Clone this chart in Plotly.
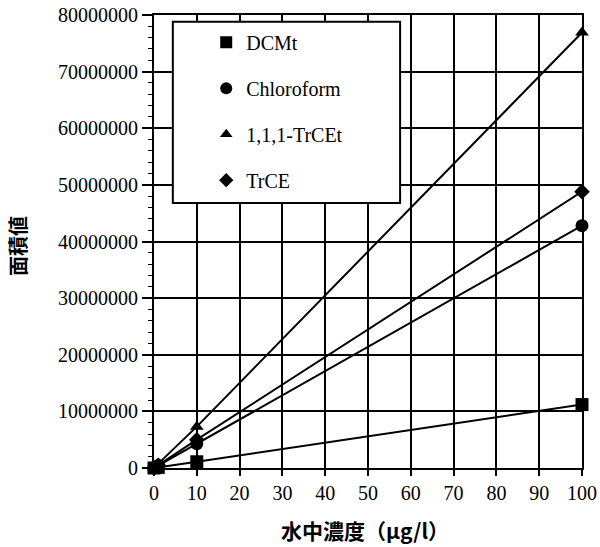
import plotly.graph_objects as go

# Data
concentration = [0, 1, 10, 100]
series_names = ["DCMt", "Chloroform", "1,1,1-TrCEt", "TrCE"]
dcmt = [0, 110000, 1100000, 11200000]
chloroform = [0, 430000, 4300000, 42800000]
trcet = [0, 770000, 7300000, 76900000]
trce = [0, 490000, 5000000, 48800000]
series_values = [dcmt, chloroform, trcet, trce]
symbols = ["square", "circle", "triangle-up", "diamond"]
sizes = [13, 13, 12, 12]
x_ticks = list(range(0, 101, 10))
y_ticks = list(range(0, 80000001, 10000000))

serif = "Liberation Serif"
cjk = "Noto Sans CJK JP"

fig = go.Figure()
for i, (name, vals) in enumerate(zip(series_names, series_values)):
    fig.add_trace(go.Scatter(
        x=concentration, y=vals, mode="lines+markers",
        line=dict(color="black", width=2),
        marker=dict(symbol=symbols[i], size=sizes[i], color="black"),
        showlegend=False, cliponaxis=False,
    ))
for i, name in enumerate(series_names):
    fig.add_trace(go.Scatter(
        x=[None], y=[None], mode="markers", name=name,
        marker=dict(symbol=symbols[i], size=sizes[i] - 1, color="black"),
        legendgroup=str(i),
    ))

fig.update_layout(
    width=600, height=547,
    margin=dict(l=154, r=18, t=15, b=79, autoexpand=False),
    paper_bgcolor="white", plot_bgcolor="white",
    font=dict(family=serif, color="black", size=20),
    legend=dict(
        x=0.122, y=0.983, xanchor="left", yanchor="top",
        bgcolor="rgba(0,0,0,0)", borderwidth=0,
        traceorder="grouped", tracegroupgap=17,
        font=dict(family=serif, size=20, color="black"),
    ),
    shapes=[dict(
        type="rect", xref="paper", yref="paper",
        x0=0.044, x1=0.575, y0=0.585, y1=0.985,
        line=dict(color="black", width=2), fillcolor="white", layer="above",
    )],
    annotations=[
        dict(text="<b>面積値</b>", xref="paper", yref="paper", x=-0.320, y=0.49,
             textangle=-90, showarrow=False, xanchor="center", yanchor="middle",
             font=dict(family=cjk, size=20, color="black")),
        dict(text="<b>水中濃度（μg/l）</b>", xref="paper", yref="paper", x=0.493, y=-0.137,
             showarrow=False, xanchor="center", yanchor="middle",
             font=dict(family=cjk, size=21, color="black")),
    ],
)

fig.update_xaxes(
    range=[0, 100], tickvals=x_ticks, ticktext=[str(v) for v in x_ticks],
    showgrid=True, gridcolor="black", gridwidth=1.5, automargin=False,
    showline=True, linecolor="black", linewidth=2, mirror=True,
    ticks="outside", ticklen=6, tickcolor="black", tickwidth=1.5,
    zeroline=False, tickfont=dict(family=serif, size=20), ticklabeloverflow="allow",
)
fig.update_yaxes(
    range=[0, 80000000], tickvals=y_ticks, ticktext=[str(v) for v in y_ticks],
    showgrid=True, gridcolor="black", gridwidth=1.5, automargin=False,
    showline=True, linecolor="black", linewidth=2, mirror=True,
    ticks="outside", ticklen=10, tickcolor="black", tickwidth=1.5,
    zeroline=False, tickfont=dict(family=serif, size=20), ticklabeloverflow="allow",
    minor=dict(dtick=2000000, ticks="outside", ticklen=4, tickcolor="black", tickwidth=1, showgrid=False),
)

fig.write_html("out.html", config={"displayModeBar": False},
               post_script="document.body.style.margin='0';")
